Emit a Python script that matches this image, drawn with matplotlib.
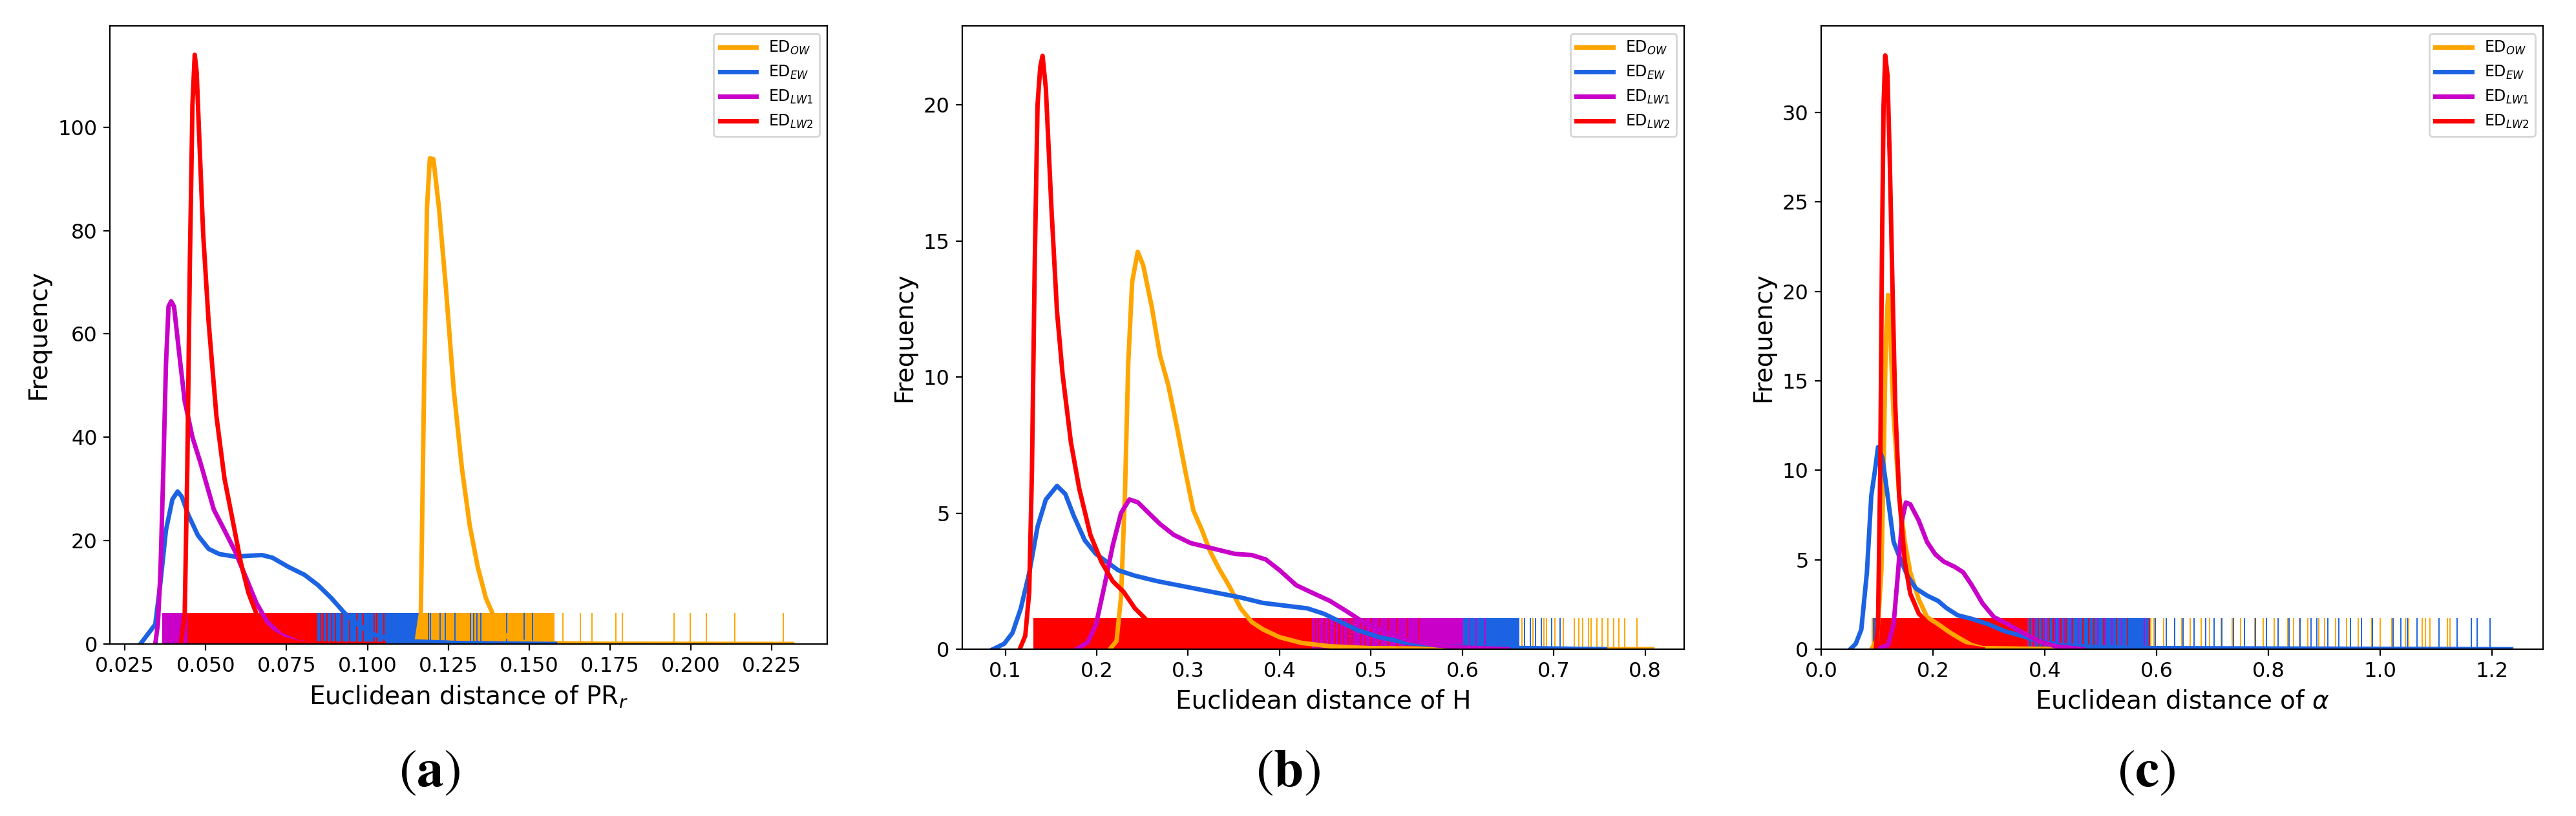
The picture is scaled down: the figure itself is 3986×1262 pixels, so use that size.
import matplotlib
matplotlib.use("Agg")
import matplotlib.pyplot as plt
import matplotlib.transforms as mtransforms

# ---------------- data ----------------
series_names = ["ED$_{OW}$", "ED$_{EW}$", "ED$_{LW1}$", "ED$_{LW2}$"]
series_colors = ["#ffa500", "#1c63e3", "#c800c8", "#ff0000"]

# panel (a): Euclidean distance of PR_r
a_ow_x = [0.1151, 0.1165, 0.1176, 0.1184, 0.1193, 0.1204, 0.1221, 0.1242, 0.1267, 0.1292, 0.1316,
          0.1341, 0.1366, 0.1391, 0.1416, 0.1448, 0.1514, 0.1700, 0.2313]
a_ow_y = [0, 5.8, 54, 84.4, 94, 93.8, 84.4, 69.3, 49, 34, 23, 14.9, 8.9, 5.3, 2.3, 0.6, 0.2, 0.05, 0]
a_ew_x = [0.0298, 0.0344, 0.0360, 0.0377, 0.0397, 0.0413, 0.0426, 0.0446, 0.0476, 0.0509, 0.0542,
          0.0591, 0.0641, 0.0674, 0.0706, 0.0756, 0.0805, 0.0847, 0.0888, 0.0929, 0.0970, 0.1020,
          0.1100, 0.1270, 0.1580]
a_ew_y = [0, 3.8, 11.9, 22, 28, 29.5, 28.5, 25, 21, 18.4, 17.4, 16.9, 17.1, 17.2, 16.7, 14.9, 13.4,
          11.4, 8.9, 6.0, 3.8, 1.8, 0.6, 0.2, 0]
a_lw1_x = [0.0344, 0.0352, 0.0360, 0.0369, 0.0377, 0.0385, 0.0393, 0.0402, 0.0418, 0.0435, 0.0459,
           0.0484, 0.0525, 0.0558, 0.0591, 0.0624, 0.0657, 0.0690, 0.0731, 0.0789, 0.0855]
a_lw1_y = [0, 3.8, 13.9, 34, 54, 65.3, 66.3, 65.3, 56.2, 47, 40, 35, 26, 22, 17.9, 12.9, 7.9, 4.3,
           1.8, 0.3, 0]
a_lw2_x = [0.0423, 0.0435, 0.0443, 0.0451, 0.0459, 0.0466, 0.0472, 0.0479, 0.0492, 0.0509, 0.0533,
           0.0558, 0.0583, 0.0608, 0.0632, 0.0657, 0.0690, 0.0740, 0.0789, 0.0900, 0.1050]
a_lw2_y = [0, 5.8, 34, 74, 104.5, 114, 110.6, 99.5, 79.4, 62.2, 44.1, 32, 24, 15.9, 9.9, 5.8, 2.8,
           1.0, 0.2, 0.05, 0]

# rugs: (lo, hi) where the ticks are so dense they look solid, then single ticks
a_ow_band = (0.1158, 0.1578)
a_ow_ticks = [0.1604, 0.1658, 0.1694, 0.1768, 0.1788, 0.1948, 0.1998, 0.2048, 0.2136, 0.2285]
a_ew_band = (0.0440, 0.1158)
a_ew_ticks = [0.1188, 0.1194, 0.1224, 0.1240, 0.1270, 0.1318, 0.1328, 0.1338, 0.1350, 0.1430,
              0.1484, 0.1510]
a_lw1_band = (0.0365, 0.0450)
a_lw1_ticks = []
a_lw2_band = (0.0443, 0.0845)
a_lw2_ticks = [0.0855, 0.0863, 0.0875, 0.0888, 0.0901, 0.0920, 0.0945, 0.0967, 0.0987, 0.1020,
               0.1028, 0.1051]

# panel (b): Euclidean distance of H
b_ow_x = [0.2144, 0.2217, 0.2266, 0.2309, 0.2345, 0.2388, 0.2449, 0.2509, 0.2601, 0.2692, 0.2783,
          0.2875, 0.2966, 0.3057, 0.3148, 0.3240, 0.3331, 0.3453, 0.3575, 0.3696, 0.3818, 0.4001,
          0.4244, 0.4548, 0.4974, 0.6000, 0.8078]
b_ow_y = [0, 0.3, 1.9, 5.7, 10.5, 13.5, 14.6, 14.1, 12.6, 10.8, 9.7, 8.2, 6.6, 5.1, 4.4, 3.6, 3.0,
          2.3, 1.5, 1.0, 0.73, 0.44, 0.23, 0.11, 0.04, 0.01, 0]
b_ew_x = [0.0866, 0.0988, 0.1079, 0.1170, 0.1262, 0.1353, 0.1444, 0.1566, 0.1657, 0.1749, 0.1870,
          0.1992, 0.2114, 0.2236, 0.2418, 0.2662, 0.2966, 0.3270, 0.3575, 0.3818, 0.4061, 0.4305,
          0.4487, 0.4670, 0.4853, 0.5096, 0.5400, 0.5887, 0.6496, 0.7561]
b_ew_y = [0, 0.2, 0.6, 1.5, 2.8, 4.5, 5.5, 6.0, 5.7, 4.9, 4.0, 3.5, 3.2, 2.9, 2.7, 2.5, 2.3, 2.1,
          1.9, 1.7, 1.6, 1.5, 1.3, 1.0, 0.7, 0.44, 0.23, 0.1, 0.05, 0]
b_lw1_x = [0.1779, 0.1901, 0.1992, 0.2083, 0.2175, 0.2266, 0.2357, 0.2449, 0.2570, 0.2692, 0.2844,
           0.3027, 0.3270, 0.3514, 0.3696, 0.3848, 0.4001, 0.4183, 0.4366, 0.4548, 0.4731, 0.4914,
           0.5157, 0.5400, 0.5705, 0.6009, 0.6496]
b_lw1_y = [0, 0.25, 0.9, 2.3, 3.8, 5.0, 5.5, 5.4, 5.0, 4.6, 4.2, 3.9, 3.7, 3.5, 3.46, 3.3, 2.9,
           2.35, 2.06, 1.78, 1.4, 1.0, 0.63, 0.34, 0.15, 0.06, 0]
b_lw2_x = [0.1158, 0.1219, 0.1262, 0.1292, 0.1323, 0.1353, 0.1383, 0.1408, 0.1444, 0.1505, 0.1566,
           0.1627, 0.1718, 0.1809, 0.1931, 0.2053, 0.2175, 0.2296, 0.2418, 0.2509, 0.2650, 0.2900,
           0.3300]
b_lw2_y = [0, 0.5, 2.1, 6.6, 14.3, 20.0, 21.4, 21.8, 20.6, 16.2, 12.4, 10.1, 7.6, 5.9, 4.2, 3.2,
           2.5, 2.1, 1.5, 1.2, 0.7, 0.2, 0]

b_ow_band = (0.2300, 0.6600)
b_ow_ticks = [0.6648, 0.6770, 0.6892, 0.6922, 0.7013, 0.7105, 0.7227, 0.7276, 0.7318, 0.7379,
              0.7409, 0.7470, 0.7531, 0.7592, 0.7653, 0.7714, 0.7775, 0.7909]
b_ew_band = (0.1400, 0.6620)
b_ew_ticks = [0.6680, 0.6740, 0.6800, 0.6860, 0.6980, 0.7070]
b_lw1_band = (0.2000, 0.6010)
b_lw1_ticks = [0.6080, 0.6150, 0.6250]
b_lw2_band = (0.1310, 0.4354)
b_lw2_ticks = [0.4396, 0.4426, 0.4487, 0.4548, 0.4609, 0.4650, 0.4700, 0.4750, 0.4792, 0.4883,
               0.4940, 0.5005, 0.5096, 0.5188, 0.5279, 0.5400, 0.5520]

# panel (c): Euclidean distance of alpha
c_ow_x = [0.0896, 0.0996, 0.1075, 0.1115, 0.1155, 0.1195, 0.1235, 0.1295, 0.1394, 0.1494, 0.1593,
          0.1743, 0.1892, 0.2091, 0.2290, 0.2490, 0.2689, 0.2888, 0.4000, 1.1300]
c_ow_y = [0, 0.5, 4.3, 10.1, 17.3, 19.8, 17.6, 13.0, 8.6, 6.0, 4.3, 2.8, 1.8, 1.4, 0.96, 0.58,
          0.23, 0.06, 0.02, 0]
c_ew_x = [0.0518, 0.0617, 0.0717, 0.0817, 0.0896, 0.0966, 0.1016, 0.1095, 0.1195, 0.1295, 0.1394,
          0.1543, 0.1693, 0.1892, 0.2091, 0.2240, 0.2440, 0.2689, 0.2987, 0.3286, 0.3585, 0.3884,
          0.4282, 0.4879, 0.5875, 1.2340]
c_ew_y = [0, 0.3, 1.1, 4.3, 8.6, 10.1, 11.3, 10.7, 8.4, 6.0, 5.2, 4.1, 3.4, 3.0, 2.7, 2.3, 1.9,
          1.7, 1.4, 1.0, 0.75, 0.46, 0.23, 0.12, 0.06, 0]
c_lw1_x = [0.0996, 0.1195, 0.1295, 0.1374, 0.1444, 0.1514, 0.1593, 0.1743, 0.1892, 0.2041, 0.2191,
           0.2390, 0.2539, 0.2689, 0.2888, 0.3087, 0.3336, 0.3585, 0.3884, 0.4182, 0.4680]
c_lw1_y = [0, 0.23, 1.4, 4.3, 7.2, 8.2, 8.1, 7.2, 6.0, 5.3, 4.9, 4.6, 4.3, 3.6, 2.55, 1.8, 1.4,
           0.96, 0.46, 0.17, 0]
c_lw2_x = [0.0976, 0.1016, 0.1056, 0.1085, 0.1115, 0.1145, 0.1185, 0.1225, 0.1275, 0.1324, 0.1394,
           0.1494, 0.1593, 0.1743, 0.1892, 0.2090, 0.2490, 0.2890]
c_lw2_y = [0, 1.4, 10.1, 21.7, 30.4, 33.2, 32.1, 27.5, 20.2, 13.6, 8.6, 4.9, 3.1, 2.0, 1.5, 0.8,
           0.2, 0]

c_ow_band = (0.0900, 0.5900)
c_ow_ticks = [0.595, 0.612, 0.632, 0.645, 0.660, 0.680, 0.695, 0.715, 0.735, 0.750, 0.775, 0.790,
              0.810, 0.835, 0.845, 0.855, 0.870, 0.890, 0.900, 0.920, 0.940, 0.960, 0.985, 1.000,
              1.020, 1.045, 1.051, 1.075, 1.081, 1.089, 1.120, 1.124]
c_ew_band = (0.0920, 0.5875)
c_ew_ticks = [0.5975, 0.6174, 0.6323, 0.6473, 0.6672, 0.6871, 0.7021, 0.7170, 0.7369, 0.7568,
              0.7767, 0.7967, 0.8166, 0.8365, 0.8564, 0.8763, 0.8863, 0.9062, 0.9261, 0.9460,
              0.9659, 0.9859, 1.0231, 1.0370, 1.0486, 1.0655, 1.1054, 1.1376, 1.1630, 1.1734,
              1.1965]
c_lw1_band = (0.1200, 0.3700)
c_lw1_ticks = [0.3784, 0.3840, 0.3983, 0.4050, 0.4182, 0.4250, 0.4350, 0.4481, 0.4600, 0.4780,
               0.4950, 0.5079, 0.5200, 0.5377, 0.5776]
c_lw2_ticks = [0.3734, 0.3800, 0.3884, 0.3950, 0.4083, 0.4150, 0.4282, 0.4382, 0.4500, 0.4680,
               0.4780, 0.4879, 0.5050, 0.5278, 0.5477, 0.5875]
c_lw2_band = (0.0970, 0.3685)

xlabels = ["Euclidean distance of PR$_r$", "Euclidean distance of H", r"Euclidean distance of $\alpha$"]
captions = [r"$(\mathbf{a})$", r"$(\mathbf{b})$", r"$(\mathbf{c})$"]
xlims = [(0.0204, 0.2422), (0.0531, 0.8426), (0.0, 1.291)]
ymaxs = [119.6, 22.9, 34.85]

panels = [
    [(a_ow_x, a_ow_y, a_ow_band, a_ow_ticks), (a_ew_x, a_ew_y, a_ew_band, a_ew_ticks),
     (a_lw1_x, a_lw1_y, a_lw1_band, a_lw1_ticks), (a_lw2_x, a_lw2_y, a_lw2_band, a_lw2_ticks)],
    [(b_ow_x, b_ow_y, b_ow_band, b_ow_ticks), (b_ew_x, b_ew_y, b_ew_band, b_ew_ticks),
     (b_lw1_x, b_lw1_y, b_lw1_band, b_lw1_ticks), (b_lw2_x, b_lw2_y, b_lw2_band, b_lw2_ticks)],
    [(c_ow_x, c_ow_y, c_ow_band, c_ow_ticks), (c_ew_x, c_ew_y, c_ew_band, c_ew_ticks),
     (c_lw1_x, c_lw1_y, c_lw1_band, c_lw1_ticks), (c_lw2_x, c_lw2_y, c_lw2_band, c_lw2_ticks)],
]

# axes boxes in figure fractions (left, bottom, width, height)
boxes = [(0.0427, 0.2108, 0.2785, 0.7575),
         (0.3736, 0.2044, 0.2802, 0.7639),
         (0.7070, 0.2044, 0.2802, 0.7639)]

rug_height = 0.05

fig = plt.figure(figsize=(19.93, 6.31), dpi=200)

for i, series in enumerate(panels):
    ax = fig.add_axes(boxes[i])
    trans = mtransforms.blended_transform_factory(ax.transData, ax.transAxes)

    # rugs first, kde curves drawn over them
    for (x, y, band, ticks), col in zip(series, series_colors):
        ax.axvspan(band[0], band[1], ymin=0, ymax=rug_height, color=col, lw=0, zorder=1)
        if ticks:
            ax.vlines(ticks, 0, rug_height, transform=trans, colors=col, lw=0.7, zorder=1)

    for (x, y, band, ticks), col, name in zip(series, series_colors, series_names):
        ax.plot(x, y, color=col, lw=2.5, label=name, zorder=2, solid_joinstyle="round")

    ax.set_xlim(*xlims[i])
    ax.set_ylim(0, ymaxs[i])
    ax.tick_params(labelsize=11.5)
    ax.set_xlabel(xlabels[i], fontsize=14)
    ax.set_ylabel("Frequency", fontsize=14)
    ax.legend(loc="upper right", fontsize=8.5, handlelength=2.4)

    fig.text((i + 0.5) / 3, 0.055, captions[i], fontsize=30, ha="center", va="center",
             math_fontfamily="stix")

fig.savefig("out.png", dpi=200, facecolor="white")
